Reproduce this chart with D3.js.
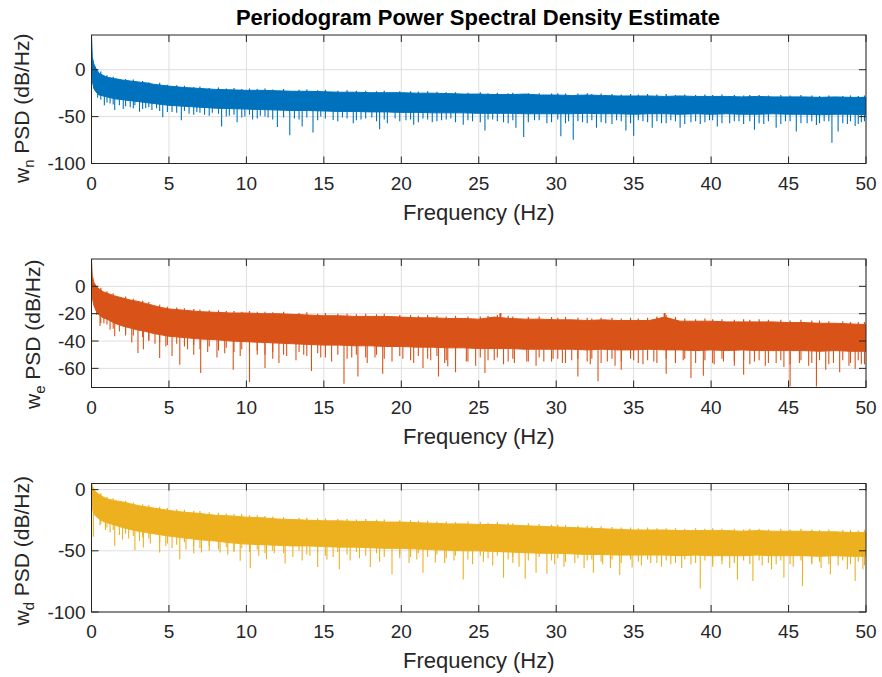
<!DOCTYPE html>
<html>
<head>
<meta charset="utf-8">
<script src="https://cdn.jsdelivr.net/npm/d3@7"></script>
<style>
  html, body { margin: 0; padding: 0; background: #fff; }
  svg { display: block; font-family: "Liberation Sans", Arial, sans-serif; }
</style>
</head>
<body>
<svg id="chart" width="882" height="677"></svg>
<script>
// Frequency grid for the dense band (Hz)
const bandF = [0, 0.05, 0.15, 0.3, 0.5, 0.75, 1, 1.5, 2, 2.5, 3, 3.5, 4, 4.5, 5, 6, 7, 8, 9, 10,
  11, 12, 13, 14, 15, 16, 17, 18, 19, 20, 21, 22, 23, 24, 25, 26, 27, 28, 29, 30,
  31, 32, 33, 34, 35, 36, 37, 38, 39, 40, 41, 42, 43, 44, 45, 46, 47, 48, 49, 50];

const xTicks = [0, 5, 10, 15, 20, 25, 30, 35, 40, 45, 50];

// frequencies of the short spikes / hairs along the band edges (shared by the 3 panels)
const shortF = [0.6, 1.0, 1.4, 2.2, 2.7, 3.3, 3.7, 4.4, 4.9, 5.5, 6.0, 6.6, 7.0, 7.6, 8.2, 8.7, 9.2, 9.7, 10.2, 10.7,
  11.2, 11.7, 12.4, 13.4, 13.9, 14.6, 15.1, 15.9, 16.5, 17.1, 17.7, 18.4, 18.9, 19.9, 20.6, 21.1, 21.7, 22.3, 22.9, 23.5,
  24.3, 25.1, 25.6, 26.2, 26.9, 27.2, 28.2, 28.9, 29.7, 30.1, 30.6, 31.4, 32.0, 32.3, 32.9, 33.6, 34.2, 34.8, 35.3, 35.9,
  36.5, 37.1, 37.7, 38.3, 39.0, 39.6, 40.1, 40.7, 41.5, 42.1, 42.5, 43.1, 43.7, 44.5, 45.1, 45.8, 46.5, 47.0, 47.6, 48.5,
  49.0, 49.5, 49.9];

// --- w_n ---
const wnTop = [37, 14, 6, 1, -4, -6, -8, -9.5, -11, -12, -13, -14, -15.5, -16.5, -17.5, -19, -20, -21, -21.5, -22,
  -22, -22.5, -23, -23, -23.5, -24, -24, -24.5, -24.5, -24.5, -25, -25, -25.5, -26, -26, -26.5, -26.5, -26, -27, -27,
  -27.5, -27, -27.5, -28, -28, -28, -28.5, -28, -28.5, -28.5, -28.5, -29, -28.5, -29, -29, -29, -29.5, -29, -29.5, -29.5];
const wnLow = [0, -12, -20, -24, -27, -28, -29, -31, -32, -33, -34, -35, -36, -37, -38, -39, -40, -41, -41.5, -42,
  -42.5, -43, -43.5, -43.5, -44, -44.5, -44.5, -45, -45, -45.5, -45.5, -46, -46, -46, -46.5, -46.5, -46.5, -47, -47, -47,
  -47, -46.5, -47, -47, -47.5, -47, -47, -47.5, -47, -47.5, -47, -47.5, -47.5, -47, -47.5, -47.5, -48, -47.5, -47.5, -48];
const wnSpikeF = [0.83, 1.5, 2.05, 3.1, 4.6, 5.8, 8.4, 9.4, 10.4, 12, 12.8, 13.6, 14.3, 15.6, 16.9, 18.6, 19.1, 20.8, 22, 24,
  25.4, 27.4, 27.9, 30.3, 31.1, 32.6, 34.5, 35.0, 36.2, 38, 40.4, 42.8, 44.2, 45.5, 47.8, 48.2, 49.3,
  0.4, 1.2, 1.8, 2.5, 2.8, 3.5, 3.9, 4.2, 5.2, 6.3, 6.8, 7.3, 7.8, 8.9, 9.9, 10.9, 11.4, 13.1, 14.8, 16.2,
  17.4, 18.1, 19.6, 20.3, 21.4, 22.6, 23.2, 24.6, 25.9, 26.6, 28.6, 29.4, 30.8, 31.7, 33.2, 33.9, 35.6, 36.8,
  37.4, 38.7, 39.3, 39.9, 41.2, 41.8, 43.4, 44.8, 46.2, 46.8, 47.3, 48.8, 49.7];
const wnSpikeV = [-38, -43, -42, -44.7, -50.7, -54, -60.6, -56, -53, -61, -70, -60.6, -67, -53.5, -57, -63.4, -57, -58.8, -56, -58.8,
  -64.8, -62, -71.8, -71, -74.6, -62, -64.8, -70.4, -62, -62, -60.6, -64, -62, -65.8, -78, -65.8, -60,
  -30, -36, -38, -40, -38, -41, -43, -41, -45, -47, -45, -48, -46, -49, -50, -49, -51, -52, -50, -51,
  -53, -51, -52, -54, -52, -54, -52, -55, -53, -56, -54, -57, -55, -56, -57, -54, -55, -57,
  -54, -56, -58, -54, -57, -55, -58, -55, -57, -59, -55, -58, -56];
const wnShortV = [-32, -35, -37, -39, -41, -42, -40, -44, -45, -46, -44, -48, -46, -49, -47, -50, -48, -51, -48, -52,
  -50, -53, -51, -53, -51, -54, -52, -55, -52, -54, -52, -55, -53, -55, -53, -56, -53, -55, -53, -56,
  -54, -56, -53, -55, -57, -54, -56, -54, -56, -53, -57, -55, -57, -54, -56, -58, -55, -57, -54, -56,
  -55, -57, -55, -58, -55, -56, -54, -57, -55, -58, -55, -57, -55, -58, -55, -57, -55, -57, -55, -57,
  -55, -58, -55];
const wnHairV = [-2, -6, -7.5, -10, -10.5, -12, -13.5, -14, -16, -16.5, -17, -18.5, -18, -19.5, -19, -20, -19.5, -20.5, -20, -20.5,
  -20, -21, -20.5, -21.5, -21, -22, -21.5, -22.5, -22, -22.5, -22.5, -23, -22.5, -23, -23, -23.5, -23, -23.5, -24, -24,
  -24.5, -24, -25, -24.5, -25, -24.5, -25, -25, -25.5, -25, -25.5, -25.5, -25, -26, -25.5, -26, -26.5, -26, -26.5, -26,
  -26.5, -26, -27, -26.5, -27, -26.5, -27, -26.5, -27, -27.5, -27, -27, -27.5, -27, -27.5, -27, -27.5, -28, -27.5, -28,
  -27.5, -28, -27.5];

// --- w_e ---
const weTop = [20, 8, 3, 0, -2, -4, -5, -7, -8.5, -10, -11, -12.5, -14, -15.5, -16.5, -17.5, -18.5, -19, -19.5, -19.5,
  -20, -20, -20.5, -21, -21.5, -21.5, -22, -22, -22, -22.5, -23, -23, -23.5, -23.5, -24, -22.5, -23.5, -24, -24, -24.5,
  -24.5, -25, -24.5, -25, -25, -25, -22.5, -25.5, -25.5, -25.5, -26, -26, -26, -26, -26.5, -26.5, -27, -27, -27.5, -28];
const weLow = [5, -8, -14, -18, -21, -23, -24, -27, -29, -30.5, -32, -33, -34.5, -35.5, -36.5, -37.5, -38.5, -39, -40, -40.5,
  -41, -41.5, -42, -42.5, -43, -43, -43.5, -43.5, -44, -44, -44.5, -44.5, -45, -45, -45.5, -45.5, -45.5, -46, -46, -46,
  -46, -46.5, -46, -46.5, -46.5, -46, -46.5, -46.5, -47, -46.5, -47, -46.5, -47, -47, -47, -47, -47.5, -47, -47.5, -47.5];
const weBumpF = [26.4, 37.0];
const weBumpV = [-19.5, -19.5];
const weSpikeF = [0.33, 0.55, 1.2, 1.5, 2.6, 3.0, 3.35, 4.4, 5.2, 5.7, 7.05, 9.15, 10.2, 11.2, 12.1, 14.2, 16.3, 17.2, 18.8, 21.4,
  22.4, 23.0, 23.5, 25.4, 27.3, 29.2, 31.4, 32.7, 34.2, 37.1, 38.7, 39.5, 42.1, 45.1, 46.8, 48.3, 49.3,
  0.8, 1.8, 2.2, 3.7, 4.1, 4.8, 6.2, 6.6, 7.5, 8.1, 8.6, 9.6, 10.7, 11.7, 12.6, 13.2, 13.7, 14.8, 15.5, 16.8,
  17.8, 18.3, 19.4, 20.1, 20.8, 21.9, 22.8, 24.2, 24.8, 26.0, 26.6, 28.1, 28.7, 29.8, 30.4, 31.0, 32.2, 33.3,
  33.8, 35.0, 35.6, 36.3, 37.7, 38.2, 40.2, 40.8, 41.5, 42.8, 43.5, 44.2, 44.7, 45.7, 46.3, 47.4, 47.9, 48.9, 49.7];
const weSpikeV = [-20.7, -29, -31.7, -36.6, -41, -48.8, -46, -52.4, -51, -57.3, -63.4, -61, -70, -59.8, -56, -62, -71.2, -65.9, -64, -59.8,
  -65.9, -58.5, -62.9, -63.4, -56, -55, -65.9, -69.5, -61, -64, -67, -65.4, -64.6, -73.2, -73.2, -62.9, -60.5,
  -27, -33, -36, -40, -42, -44, -46, -50, -48, -52, -49, -51, -50, -53, -51, -54, -50, -52, -55, -52,
  -56, -52, -55, -53, -56, -54, -56, -55, -58, -54, -57, -55, -58, -53, -56, -54, -57, -55,
  -58, -54, -57, -55, -56, -54, -57, -55, -58, -55, -58, -56, -59, -56, -58, -61, -56, -58, -57];
const weShortV = [-27, -28, -31, -34, -36, -37, -39, -41, -43, -42, -44, -43, -46, -44, -47, -45, -48, -46, -49, -47,
  -50, -48, -50, -48, -51, -49, -52, -50, -53, -50, -52, -50, -53, -51, -54, -51, -53, -51, -54, -52,
  -55, -52, -54, -52, -55, -53, -55, -52, -55, -53, -56, -53, -55, -53, -56, -53, -55, -53, -56, -54,
  -56, -53, -55, -53, -56, -54, -56, -53, -55, -54, -57, -54, -56, -54, -57, -54, -56, -54, -57, -54,
  -56, -54, -57];
const weHairV = [-1, -3.5, -5, -7.5, -9, -10.5, -11.5, -13.5, -15, -15.5, -16, -16.5, -17, -17.5, -17.5, -18, -18, -18.5, -18, -18.5,
  -18.5, -19, -18.5, -19.5, -19, -20, -19.5, -20, -20, -20.5, -20, -20.5, -20, -21, -21, -21.5, -21, -21.5, -22, -21.5,
  -22, -22, -21.5, -21, -21.5, -22, -22.5, -22, -22.5, -23, -22.5, -23, -23, -23.5, -23, -23, -23.5, -23, -23.5, -23,
  -22, -21, -22.5, -23.5, -24, -23.5, -24, -24, -24.5, -24, -24.5, -24, -24.5, -24.5, -25, -24.5, -25, -25, -25.5, -25.5,
  -26, -26, -26];

// --- w_d ---
const wdTop = [5, 3, 0, -2, -4, -6, -7.5, -9, -10, -11.5, -13, -14, -15, -16, -17, -18.5, -19.5, -21, -21.5, -22.5,
  -23, -24, -24.5, -25, -25.5, -25.5, -26, -26, -26.5, -26.5, -27, -27.5, -28, -28, -28.5, -28.5, -29, -29.5, -30, -30.5,
  -31, -31.5, -32, -32.5, -33, -33, -33, -33.5, -33.5, -33.5, -33.5, -34, -33.5, -34, -34, -34, -34.5, -34.5, -35, -35];
const wdLow = [-5, -15, -20, -22, -24, -26, -27, -29, -31, -32.5, -34, -35, -36, -37, -38, -39.5, -41, -42, -43.5, -44.5,
  -45, -45.5, -46, -46, -46.5, -47, -47, -47.5, -48, -48, -48.5, -49, -49.5, -50, -50, -50.5, -51, -51.5, -52, -52,
  -52.5, -53, -53, -53.5, -53.5, -53.5, -53.5, -54, -53.5, -54, -54, -54, -53.5, -54, -54, -54, -54.5, -54, -54.5, -54.5];
const wdSpikeF = [0.12, 0.55, 1.5, 2.0, 2.8, 3.35, 4.4, 5.7, 7.1, 8.3, 9.6, 10.25, 11.3, 12.5, 14.6, 16.0, 18.0, 19.4, 21.4, 22.2,
  24.0, 26.6, 28.0, 28.7, 29.4, 32.4, 34.1, 34.9, 39.3, 41.7, 42.7, 44.7, 45.9, 47.7, 49.3, 49.8,
  0.9, 1.2, 1.8, 2.4, 3.1, 3.8, 4.8, 5.2, 6.1, 6.6, 7.6, 8.8, 9.2, 10.8, 11.8, 13.0, 13.6, 14.1, 15.2, 15.6,
  16.7, 17.3, 18.6, 19.9, 20.5, 21.0, 22.8, 23.4, 24.6, 25.3, 25.9, 27.2, 27.6, 29.9, 30.5, 31.2, 31.8, 33.0,
  33.5, 35.5, 36.1, 36.8, 37.4, 38.1, 38.7, 40.1, 40.7, 41.2, 43.3, 43.9, 44.2, 45.3, 46.5, 47.1, 48.2, 48.8];
const wdSpikeV = [-38.5, -29.4, -45.9, -40.7, -49.5, -47.3, -51.4, -56.9, -51.4, -51.4, -58.2, -64.3, -56.9, -60.4, -63.2, -65.1, -63.2, -69.2, -67.9, -59.6,
  -73.4, -72, -72.8, -67.9, -68.7, -67.9, -69.8, -63.7, -80.8, -73.4, -74.7, -72, -78.8, -69.2, -74.7, -65.1,
  -33, -35, -37, -40, -42, -44, -46, -48, -49, -52, -50, -53, -51, -54, -52, -55, -58, -54, -57, -55,
  -58, -56, -59, -56, -60, -57, -60, -58, -61, -59, -62, -60, -63, -61, -63, -60, -64, -61,
  -64, -62, -60, -63, -61, -64, -61, -63, -61, -64, -62, -65, -61, -63, -61, -64, -62, -65];
const wdShortV = [-28, -31, -33, -36, -38, -39, -40, -43, -44, -45, -43, -46, -48, -46, -49, -47, -50, -48, -51, -49,
  -52, -50, -52, -50, -53, -51, -54, -51, -53, -51, -54, -52, -55, -53, -55, -52, -55, -53, -56, -54,
  -57, -54, -56, -54, -57, -55, -58, -55, -58, -56, -59, -56, -58, -57, -59, -57, -60, -57, -59, -57,
  -60, -58, -60, -57, -60, -58, -61, -58, -60, -58, -61, -58, -60, -58, -61, -58, -60, -59, -61, -58,
  -61, -59, -62];
const wdHairV = [-3, -6, -7, -9, -10.5, -12, -12.5, -14, -15, -16, -16.5, -17.5, -17.5, -18.5, -19, -19.5, -20, -20, -21, -21,
  -21.5, -22, -22.5, -23, -23, -23.5, -23.5, -24, -24, -24.5, -24, -24.5, -24.5, -25, -25, -25.5, -25.5, -26, -26, -26.5,
  -26, -26.5, -27, -26.5, -27, -27.5, -27.5, -28, -28.5, -28.5, -29, -29.5, -29.5, -30, -30, -30.5, -31, -31, -31.5, -31,
  -31.5, -31.5, -31.5, -32, -31.5, -32, -31.5, -32, -32, -32.5, -32, -32, -32.5, -32, -32.5, -32, -32.5, -33, -32.5, -33,
  -33, -33.5, -33];

const panels = [
  { top: 35, yDomain: [-100, 37], yTicks: [-100, -50, 0], sub: "n", color: "#0072BD",
    hi: wnTop, lo: wnLow, sf: wnSpikeF, sv: wnSpikeV, shv: wnShortV, hv: wnHairV, bf: [], bv: [], labelX: 29, labelDy: 9 },
  { top: 259, yDomain: [-74, 20], yTicks: [-60, -40, -20, 0], sub: "e", color: "#D95319",
    hi: weTop, lo: weLow, sf: weSpikeF, sv: weSpikeV, shv: weShortV, hv: weHairV, bf: weBumpF, bv: weBumpV, labelX: 40, labelDy: 11 },
  { top: 483.5, yDomain: [-100, 5], yTicks: [-100, -50, 0], sub: "d", color: "#EDB120",
    hi: wdTop, lo: wdLow, sf: wdSpikeF, sv: wdSpikeV, shv: wdShortV, hv: wdHairV, bf: [], bv: [], labelX: 29, labelDy: 3 }
];

const svg = d3.select("#chart");
const left = 91.5, right = 866, plotH = 128.5;
const axisColor = "#262626";

svg.append("text")
  .attr("x", 478).attr("y", 25)
  .attr("text-anchor", "middle")
  .attr("font-size", "22px").attr("font-weight", "bold")
  .attr("fill", "#000")
  .text("Periodogram Power Spectral Density Estimate");

panels.forEach((p, i) => {
  const x = d3.scaleLinear().domain([0, 50]).range([left, right]);
  const y = d3.scaleLinear().domain(p.yDomain).range([p.top + plotH, p.top]);
  const g = svg.append("g");

  // grid
  g.append("g").selectAll("line").data(xTicks).join("line")
    .attr("x1", d => x(d)).attr("x2", d => x(d))
    .attr("y1", p.top).attr("y2", p.top + plotH)
    .attr("stroke", "#dfdfdf").attr("stroke-width", 1);
  g.append("g").selectAll("line").data(p.yTicks).join("line")
    .attr("x1", left).attr("x2", right)
    .attr("y1", d => y(d)).attr("y2", d => y(d))
    .attr("stroke", "#dfdfdf").attr("stroke-width", 1);

  const clipId = "clip" + i;
  g.append("clipPath").attr("id", clipId).append("rect")
    .attr("x", left).attr("y", p.top).attr("width", right - left).attr("height", plotH);
  const dg = g.append("g").attr("clip-path", `url(#${clipId})`);

  const band = bandF.map((f, k) => ({ f, hi: p.hi[k], lo: p.lo[k] }));
  const loAt = f => p.lo[d3.bisectLeft(bandF, f)];
  const hiAt = f => p.hi[d3.bisectLeft(bandF, f)];

  dg.append("path").datum(band)
    .attr("fill", p.color)
    .attr("stroke", p.color).attr("stroke-width", 1)
    .attr("d", d3.area().x(d => x(d.f)).y0(d => y(d.lo)).y1(d => y(d.hi)));

  // downward spikes: long ones, then short ones right under the band
  const spikes = d3.zip(p.sf, p.sv).concat(d3.zip(shortF, p.shv));
  dg.append("g").selectAll("line").data(spikes).join("line")
    .attr("x1", d => x(d[0])).attr("x2", d => x(d[0]))
    .attr("y1", d => y(loAt(d[0]) + 3)).attr("y2", d => y(d[1]))
    .attr("stroke", p.color).attr("stroke-width", 1.1);

  // hairs on the upper edge of the band
  dg.append("g").selectAll("line").data(d3.zip(shortF, p.hv)).join("line")
    .attr("x1", d => x(d[0])).attr("x2", d => x(d[0]))
    .attr("y1", d => y(hiAt(d[0]) - 4)).attr("y2", d => y(d[1]))
    .attr("stroke", p.color).attr("stroke-width", 1.2);

  // small upward bumps
  dg.append("g").selectAll("line").data(d3.zip(p.bf, p.bv)).join("line")
    .attr("x1", d => x(d[0])).attr("x2", d => x(d[0]))
    .attr("y1", d => y(hiAt(d[0]) - 3)).attr("y2", d => y(d[1]))
    .attr("stroke", p.color).attr("stroke-width", 2);

  // box
  g.append("rect")
    .attr("x", left).attr("y", p.top).attr("width", right - left).attr("height", plotH)
    .attr("fill", "none").attr("stroke", axisColor).attr("stroke-width", 1);

  // ticks (inward, both sides)
  const tl = 7;
  g.append("g").selectAll("path").data(xTicks).join("path")
    .attr("d", d => `M${x(d)},${p.top + plotH}v${-tl}M${x(d)},${p.top}v${tl}`)
    .attr("stroke", axisColor).attr("stroke-width", 1);
  g.append("g").selectAll("path").data(p.yTicks).join("path")
    .attr("d", d => `M${left},${y(d)}h${tl}M${right},${y(d)}h${-tl}`)
    .attr("stroke", axisColor).attr("stroke-width", 1);

  // tick labels
  g.append("g").selectAll("text").data(xTicks).join("text")
    .attr("x", d => x(d)).attr("y", p.top + plotH + 26)
    .attr("text-anchor", "middle").attr("font-size", "19px").attr("fill", axisColor)
    .text(d => d);
  g.append("g").selectAll("text").data(p.yTicks).join("text")
    .attr("x", left - 6).attr("y", d => y(d)).attr("dy", "0.35em")
    .attr("text-anchor", "end").attr("font-size", "19px").attr("fill", axisColor)
    .text(d => d);

  // x label
  g.append("text")
    .attr("x", (left + right) / 2).attr("y", p.top + plotH + 56)
    .attr("text-anchor", "middle").attr("font-size", "22px").attr("fill", axisColor)
    .text("Frequency (Hz)");

  // y label with subscript
  const yl = g.append("text")
    .attr("transform", `translate(${p.labelX},${p.top + plotH / 2 + p.labelDy}) rotate(-90)`)
    .attr("text-anchor", "middle").attr("font-size", "21px").attr("fill", axisColor);
  yl.append("tspan").text("w");
  yl.append("tspan").attr("dy", 5).attr("font-size", "15px").text(p.sub);
  yl.append("tspan").attr("dy", -5).text(" PSD (dB/Hz)");
});
</script>
</body>
</html>
